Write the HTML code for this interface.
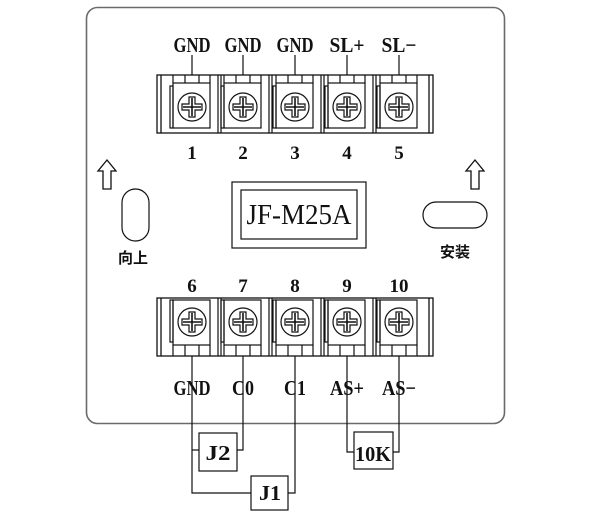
<!DOCTYPE html>
<html><head><meta charset="utf-8"><style>
html,body{margin:0;padding:0;background:#fff;}
svg{display:block;}
.l{font-family:"Liberation Serif",serif;font-weight:bold;font-size:21px;text-anchor:middle;fill:#111;}
.n{font-family:"Liberation Serif",serif;font-weight:bold;font-size:19px;text-anchor:middle;fill:#111;}
.c{font-family:"Liberation Sans","Noto Sans CJK SC",sans-serif;font-weight:bold;font-size:15px;text-anchor:middle;fill:#111;}
</style></head><body>
<svg width="600" height="523" viewBox="0 0 600 523" xmlns="http://www.w3.org/2000/svg">
<rect x="86.5" y="7.5" width="418" height="416" rx="11" fill="#fff" stroke="#6a6a6a" stroke-width="1.6"/>
<g stroke="#111" stroke-width="1.3" fill="none">
<rect x="157" y="75" width="276" height="58"/>
<line x1="161" y1="75" x2="161" y2="133"/>
<line x1="429" y1="75" x2="429" y2="133"/>
<rect x="157" y="298" width="276" height="58"/>
<line x1="161" y1="298" x2="161" y2="356"/>
<line x1="429" y1="298" x2="429" y2="356"/>
</g>
<script>
(function(){
var ns="http://www.w3.org/2000/svg";var svg=document.querySelector('svg');
function el(t,a){var e=document.createElementNS(ns,t);for(var k in a)e.setAttribute(k,a[k]);e.setAttribute('stroke',a.stroke||'#111');e.setAttribute('fill',a.fill||'none');e.setAttribute('stroke-width',a.sw||1.2);svg.appendChild(e);return e;}
var cs=[192,243,295,347,399];
cs.forEach(function(c,i){
 if(i<4){el('line',{x1:c+26,y1:75,x2:c+26,y2:133});el('line',{x1:c+29,y1:75,x2:c+29,y2:133});}
 el('rect',{x:c-19,y:83,width:37,height:45});
 el('rect',{x:c-22,y:86,width:3,height:42});
 el('line',{x1:c-19,y1:75,x2:c-19,y2:83});el('line',{x1:c+18,y1:75,x2:c+18,y2:83});
 el('line',{x1:c-7,y1:75,x2:c-7,y2:83});el('line',{x1:c+7,y1:75,x2:c+7,y2:83});
 el('circle',{cx:c,cy:107,r:14});
 el('path',{d:'M'+(c-3)+' 97h6v7h7v6h-7v7h-6v-7h-7v-6h7z'});
 el('line',{x1:c-9,y1:107,x2:c+9,y2:107,sw:1.6});el('line',{x1:c,y1:98,x2:c,y2:116,sw:1.6});
 el('line',{x1:c,y1:55,x2:c,y2:75});
 if(i<4){el('line',{x1:c+26,y1:298,x2:c+26,y2:356});el('line',{x1:c+29,y1:298,x2:c+29,y2:356});}
 el('rect',{x:c-19,y:300,width:37,height:45});
 el('rect',{x:c-22,y:300,width:3,height:42});
 el('line',{x1:c-19,y1:345,x2:c-19,y2:356});el('line',{x1:c+18,y1:345,x2:c+18,y2:356});
 el('line',{x1:c-7,y1:345,x2:c-7,y2:356});el('line',{x1:c+7,y1:345,x2:c+7,y2:356});
 el('circle',{cx:c,cy:322,r:14});
 el('path',{d:'M'+(c-3)+' 312h6v7h7v6h-7v7h-6v-7h-7v-6h7z'});
 el('line',{x1:c-9,y1:322,x2:c+9,y2:322,sw:1.6});el('line',{x1:c,y1:313,x2:c,y2:331,sw:1.6});
});
el('polyline',{points:'192,356 192,493 251,493'});
el('line',{x1:192,y1:450,x2:199,y2:450});
el('polyline',{points:'237,450 243,450 243,356'});
el('polyline',{points:'288,493 295,493 295,356'});
el('polyline',{points:'347,356 347,452 354,452'});
el('polyline',{points:'393,452 399,452 399,356'});
el('rect',{x:199,y:433,width:38,height:38,fill:'#fff'});
el('rect',{x:251,y:476,width:37,height:34,fill:'#fff'});
el('rect',{x:354,y:432,width:39,height:37,fill:'#fff'});
el('rect',{x:232,y:182,width:134,height:66});
el('rect',{x:241,y:190,width:116,height:49});
el('rect',{x:122,y:189,width:27,height:52,rx:13.5});
el('rect',{x:423,y:202,width:64,height:26,rx:13});
[107,475].forEach(function(x){el('path',{d:'M'+x+' 160l-9 11h5v18h8v-18h5z',sw:1.3});});
})();
</script>
<g class="l">
<text x="192" y="52" textLength="37" lengthAdjust="spacingAndGlyphs">GND</text>
<text x="243" y="52" textLength="37" lengthAdjust="spacingAndGlyphs">GND</text>
<text x="295" y="52" textLength="37" lengthAdjust="spacingAndGlyphs">GND</text>
<text x="347" y="52" textLength="35" lengthAdjust="spacingAndGlyphs">SL+</text>
<text x="399" y="52" textLength="35" lengthAdjust="spacingAndGlyphs">SL−</text>
</g>
<g class="n">
<text x="192" y="159">1</text><text x="243" y="159">2</text><text x="295" y="159">3</text><text x="347" y="159">4</text><text x="399" y="159">5</text>
<text x="192" y="292">6</text><text x="243" y="292">7</text><text x="295" y="292">8</text><text x="347" y="292">9</text><text x="399" y="292">10</text>
</g>
<g class="l">
<text x="192" y="395" textLength="37" lengthAdjust="spacingAndGlyphs">GND</text>
<text x="243" y="395" textLength="22" lengthAdjust="spacingAndGlyphs">C0</text>
<text x="295" y="395" textLength="22" lengthAdjust="spacingAndGlyphs">C1</text>
<text x="347" y="395" textLength="34" lengthAdjust="spacingAndGlyphs">AS+</text>
<text x="399" y="395" textLength="34" lengthAdjust="spacingAndGlyphs">AS−</text>
<text x="218" y="460" textLength="25" lengthAdjust="spacingAndGlyphs">J2</text>
<text x="270" y="500" textLength="22" lengthAdjust="spacingAndGlyphs">J1</text>
<text x="373" y="461" textLength="36" lengthAdjust="spacingAndGlyphs">10K</text>
</g>
<text x="299" y="224" textLength="105" lengthAdjust="spacingAndGlyphs" style="font-family:'Liberation Serif',serif;font-size:28px;text-anchor:middle;fill:#111;">JF-M25A</text>
<text class="c" x="133" y="263">向上</text>
<text class="c" x="455" y="257">安装</text>
</svg>
</body></html>
